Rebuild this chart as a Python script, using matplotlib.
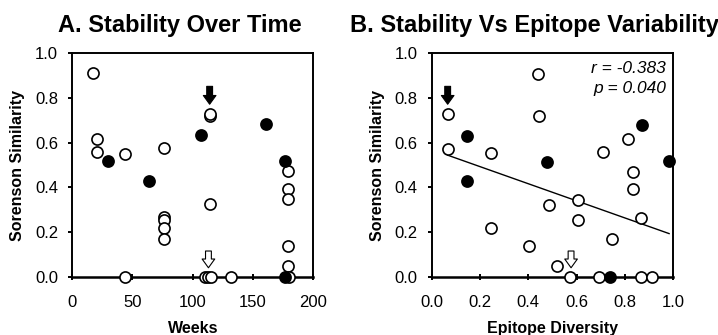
import matplotlib
matplotlib.use('agg')
import matplotlib.pyplot as plt

plt.rcParams['font.family'] = ['Liberation Sans', 'DejaVu Sans']

# panel A : stability over time
weeks_open = [17, 21, 21, 44, 44, 76, 76, 76, 76, 76, 114, 114, 114,
              110, 112.5, 115, 132, 179, 179, 179, 179, 179, 179.5]
sim_a_open = [0.91, 0.615, 0.558, 0.55, 0.0, 0.574, 0.268, 0.256, 0.218, 0.17,
              0.72, 0.727, 0.325, 0.0, 0.0, 0.0, 0.0, 0.471, 0.392, 0.347,
              0.138, 0.048, 0.0]
weeks_fill = [30, 64, 107, 161, 176, 176]
sim_a_fill = [0.52, 0.428, 0.634, 0.683, 0.517, 0.0]

# panel B : stability vs epitope diversity
div_open = [0.066, 0.066, 0.439, 0.446, 0.246, 0.246, 0.404, 0.484, 0.517,
            0.572, 0.607, 0.607, 0.708, 0.745, 0.694, 0.814, 0.834, 0.834,
            0.866, 0.866, 0.914]
sim_b_open = [0.727, 0.573, 0.908, 0.719, 0.552, 0.218, 0.136, 0.321, 0.048,
              0.0, 0.345, 0.253, 0.556, 0.169, 0.0, 0.615, 0.470, 0.392,
              0.263, 0.0, 0.0]
div_fill = [0.145, 0.145, 0.476, 0.869, 0.983, 0.738]
sim_b_fill = [0.631, 0.428, 0.514, 0.679, 0.520, 0.0]

# trend line end points (panel B)
fit_x = [0.066, 0.983]
fit_y = [0.544, 0.193]

# highlighted points (arrows): (x, y) of black arrow, (x, y) of white arrow
hl_a = [(114, 0.727), (113, 0.0)]
hl_b = [(0.066, 0.727), (0.577, 0.0)]

fig = plt.figure(figsize=(7.18, 3.35), dpi=100)
axA = fig.add_axes([0.1003, 0.174, 0.3363, 0.6669])
axB = fig.add_axes([0.6013, 0.174, 0.3363, 0.6669])


def style(ax, xlim, xticks, xfmt, xlabel):
    ax.set_xlim(*xlim)
    ax.set_ylim(0, 1.0)
    ax.set_xticks(xticks)
    ax.set_xticklabels([xfmt.format(t) for t in xticks])
    ax.set_yticks([0, 0.2, 0.4, 0.6, 0.8, 1.0])
    ax.set_yticklabels(['0.0', '0.2', '0.4', '0.6', '0.8', '1.0'])
    for s in ax.spines.values():
        s.set_linewidth(1.4)
    ax.spines['bottom'].set_linewidth(1.8)
    ax.tick_params(axis='x', direction='inout', length=5, width=1.4,
                   pad=11, labelsize=12)
    ax.tick_params(axis='y', direction='out', length=3, width=1.4,
                   pad=7, labelsize=12)
    ax.set_ylabel('Sorenson Similarity', fontsize=11.5, fontweight='bold')
    ax.yaxis.set_label_coords(-0.195, 0.5)
    ax.set_xlabel(xlabel, fontsize=11.5, fontweight='bold')
    ax.xaxis.set_label_coords(0.5, -0.2)


def points(ax, xo, yo, xf, yf):
    ax.plot(xo, yo, 'o', ms=8, mfc='white', mec='black', mew=1.2,
            ls='none', clip_on=False, zorder=5)
    ax.plot(xf, yf, 'o', ms=8, mfc='black', mec='black', mew=1.2,
            ls='none', clip_on=False, zorder=6)


def arrows(ax, hl):
    (xb, yb), (xw, yw) = hl
    ax.annotate('', xy=(xb, yb + 0.045), xytext=(xb, yb + 0.125),
                arrowprops=dict(arrowstyle='simple,head_length=0.45,head_width=0.65,tail_width=0.3',
                                mutation_scale=14, fc='black', ec='black',
                                lw=0.8, shrinkA=0, shrinkB=0), zorder=7)
    ax.annotate('', xy=(xw, yw + 0.04), xytext=(xw, yw + 0.115),
                arrowprops=dict(arrowstyle='simple,head_length=0.45,head_width=0.65,tail_width=0.3',
                                mutation_scale=14, fc='white', ec='black',
                                lw=0.8, shrinkA=0, shrinkB=0), zorder=7)


style(axA, (0, 200), [0, 50, 100, 150, 200], '{:d}', 'Weeks')
points(axA, weeks_open, sim_a_open, weeks_fill, sim_a_fill)
arrows(axA, hl_a)

style(axB, (0, 1.0), [0, 0.2, 0.4, 0.6, 0.8, 1.0], '{:.1f}', 'Epitope Diversity')
axB.plot(fit_x, fit_y, color='black', lw=1.0, zorder=4)
points(axB, div_open, sim_b_open, div_fill, sim_b_fill)
arrows(axB, hl_b)
axB.text(0.97, 0.965, 'r = -0.383', transform=axB.transAxes, ha='right',
         va='top', fontsize=12.5, style='italic')
axB.text(0.97, 0.875, 'p = 0.040', transform=axB.transAxes, ha='right',
         va='top', fontsize=12.5, style='italic')

fig.text(180 / 718, 0.905, 'A. Stability Over Time', ha='center',
         va='baseline', fontsize=17, fontweight='bold')
fig.text(534 / 718, 0.905, 'B. Stability Vs Epitope Variability', ha='center',
         va='baseline', fontsize=17, fontweight='bold')

fig.savefig('out.png', dpi=100)
